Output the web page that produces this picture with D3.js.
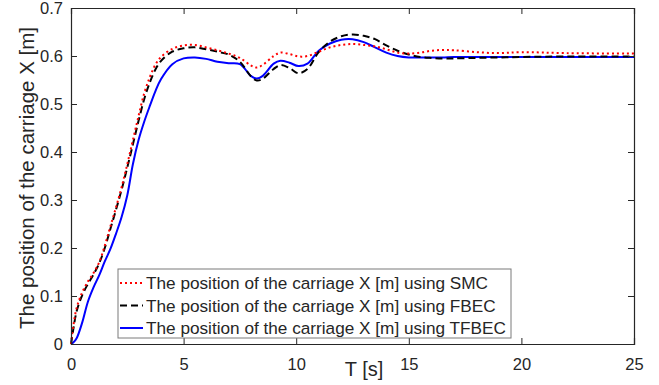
<!DOCTYPE html>
<html>
<head>
<meta charset="utf-8">
<script src="https://cdn.jsdelivr.net/npm/d3@7"></script>
<style>
  body { margin: 0; background: #fff; }
  svg { display: block; }
  text { font-family: "Liberation Sans", Arial, Helvetica, sans-serif; fill: #262626; }
</style>
</head>
<body>
<div id="chart"></div>
<script>
// time samples [s]
var time = [0, 0.1, 0.25, 0.5, 0.75, 1.0, 1.25, 1.5, 1.75, 2.0, 2.25, 2.5, 2.75, 3.0, 3.25, 3.5, 3.75, 4.0, 4.5, 5.0,
            5.5, 6.0, 6.5, 7.0, 7.5, 8.0, 8.25, 8.5, 9.0, 9.3, 9.7, 10.1, 10.5, 11.0, 11.5, 12.0, 12.5, 13.0, 13.5, 14.0,
            14.5, 15.0, 15.5, 16.0, 16.5, 17, 18, 19, 20, 22, 25];

// SMC
var smc = [0, 0.036, 0.075, 0.108, 0.13, 0.148, 0.17, 0.205, 0.245, 0.285, 0.327, 0.375, 0.425, 0.475, 0.522, 0.556, 0.582, 0.598, 0.615, 0.622,
           0.623, 0.618, 0.612, 0.605, 0.596, 0.580, 0.576, 0.581, 0.600, 0.607, 0.604, 0.599, 0.600, 0.609, 0.618, 0.623, 0.625, 0.623, 0.620, 0.614,
           0.607, 0.605, 0.607, 0.611, 0.6125, 0.612, 0.608, 0.606, 0.608, 0.606, 0.605];

// FBEC
var fbec = [0, 0.03, 0.068, 0.102, 0.125, 0.145, 0.168, 0.2, 0.24, 0.28, 0.322, 0.368, 0.416, 0.465, 0.51, 0.545, 0.572, 0.59, 0.609, 0.616,
            0.618, 0.614, 0.609, 0.603, 0.588, 0.557, 0.549, 0.552, 0.573, 0.581, 0.575, 0.564, 0.573, 0.608, 0.630, 0.641, 0.645, 0.642, 0.635, 0.622,
            0.611, 0.603, 0.598, 0.596, 0.595, 0.595, 0.596, 0.597, 0.598, 0.599, 0.599];

// TFBEC
var tfbec = [0, 0.003, 0.012, 0.045, 0.088, 0.118, 0.143, 0.172, 0.198, 0.23, 0.265, 0.31, 0.375, 0.425, 0.463, 0.496, 0.527, 0.552, 0.583, 0.595,
             0.597, 0.594, 0.588, 0.585, 0.583, 0.558, 0.553, 0.558, 0.584, 0.590, 0.586, 0.579, 0.584, 0.611, 0.626, 0.634, 0.635, 0.629, 0.618, 0.607,
             0.600, 0.597, 0.597, 0.597, 0.597, 0.598, 0.598, 0.598, 0.598, 0.598, 0.598];

var xTicks = [0, 5, 10, 15, 20, 25];
var yTicks = [0, 0.1, 0.2, 0.3, 0.4, 0.5, 0.6, 0.7];

var legendLabels = [
  'The position of the carriage X [m] using SMC',
  'The position of the carriage X [m] using FBEC',
  'The position of the carriage X [m] using TFBEC'
];

var W = 659, H = 385;
var m = { left: 71, right: 25, top: 8, bottom: 41 };
var iw = W - m.left - m.right, ih = H - m.top - m.bottom;

var svg = d3.select('#chart').append('svg')
  .attr('width', W).attr('height', H);

var x = d3.scaleLinear().domain([0, 25]).range([0, iw]);
var y = d3.scaleLinear().domain([0, 0.7]).range([ih, 0]);

var g = svg.append('g').attr('transform', 'translate(' + m.left + ',' + m.top + ')');

var series = [
  { vals: smc, color: '#ff0000', dash: '2,3' },
  { vals: fbec, color: '#000000', dash: '7,4' },
  { vals: tfbec, color: '#0000ff', dash: null }
];

var line = d3.line()
  .x(function (d) { return x(d[0]); })
  .y(function (d) { return y(d[1]); })
  .curve(d3.curveCatmullRom.alpha(0.5));

// blue first so the dotted/dashed ones sit on top
series.slice().reverse().forEach(function (s) {
  g.append('path')
    .datum(time.map(function (t, i) { return [t, s.vals[i]]; }))
    .attr('fill', 'none')
    .attr('stroke', s.color)
    .attr('stroke-width', 2)
    .attr('stroke-dasharray', s.dash)
    .attr('d', line);
});

// axes, ticks inward, box on
var axisColor = '#262626';
var tickLen = 6;

var xAxis = g.append('g').attr('transform', 'translate(0,' + ih + ')')
  .call(d3.axisBottom(x).tickValues(xTicks).tickSize(-tickLen).tickFormat(d3.format('d')));
var yAxis = g.append('g')
  .call(d3.axisLeft(y).tickValues(yTicks).tickSize(-tickLen).tickPadding(8)
    .tickFormat(function (d) { return d === 0 ? '0' : d3.format('.1f')(d); }));
var xTop = g.append('g')
  .call(d3.axisTop(x).tickValues(xTicks).tickSize(-tickLen).tickFormat(''));
var yRight = g.append('g').attr('transform', 'translate(' + iw + ',0)')
  .call(d3.axisRight(y).tickValues(yTicks).tickSize(-tickLen).tickFormat(''));

[xAxis, yAxis, xTop, yRight].forEach(function (a) {
  a.selectAll('.domain').attr('stroke', axisColor).attr('stroke-width', 1.2);
  a.selectAll('.tick line').attr('stroke', axisColor).attr('stroke-width', 1);
  a.selectAll('.tick text').attr('font-size', 16.5).style('font-family', '"Liberation Sans", Arial, sans-serif').attr('fill', axisColor);
});
xAxis.selectAll('.tick text').attr('y', 26).attr('dy', 0);

// axis labels
svg.append('text')
  .attr('x', 364)
  .attr('y', 376)
  .attr('text-anchor', 'middle')
  .attr('font-size', 20)
  .text('T [s]');

svg.append('text')
  .attr('transform', 'translate(33.5,178) rotate(-90)')
  .attr('text-anchor', 'middle')
  .attr('font-size', 20.5)
  .text('The position of the carriage X [m]');

// legend
var lg = svg.append('g').attr('transform', 'translate(118,269)');
lg.append('rect')
  .attr('width', 393).attr('height', 69)
  .attr('fill', '#fff').attr('stroke', '#7a7a7a').attr('stroke-width', 1);

series.forEach(function (s, i) {
  var yy = 14 + i * 22.5;
  lg.append('line')
    .attr('x1', 2).attr('x2', 25).attr('y1', yy).attr('y2', yy)
    .attr('stroke', s.color).attr('stroke-width', 2)
    .attr('stroke-dasharray', s.dash);
  lg.append('text')
    .attr('x', 28).attr('y', yy)
    .attr('dy', '0.35em')
    .attr('font-size', 17.2)
    .attr('fill', '#000')
    .text(legendLabels[i]);
});
</script>
</body>
</html>
